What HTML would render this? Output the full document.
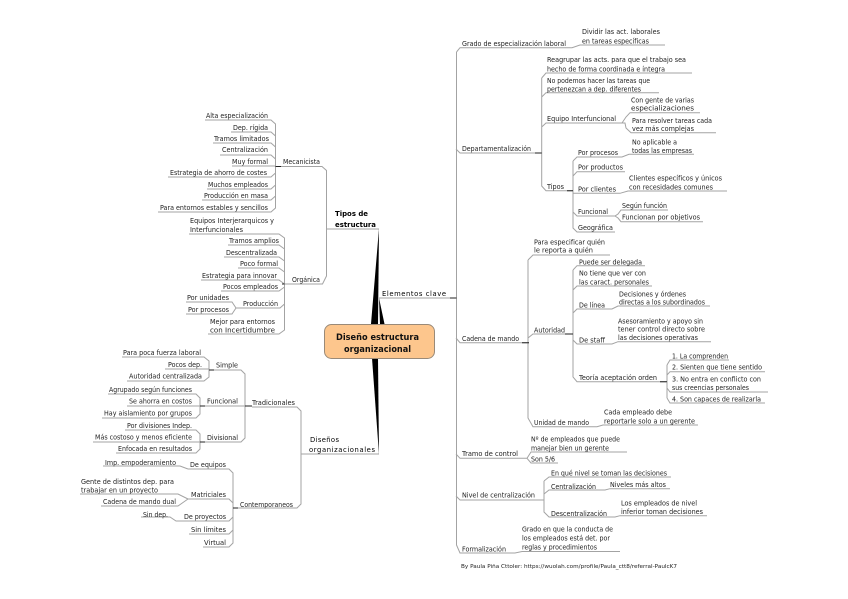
<!DOCTYPE html>
<html lang="es">
<head>
<meta charset="utf-8">
<title>Diseño estructura organizacional</title>
<style>
html,body{margin:0;padding:0;background:#fff;width:848px;height:599px;overflow:hidden}
svg{display:block;filter:blur(0.3px)}
text{font-family:"DejaVu Sans","Liberation Sans",sans-serif;font-size:6.8px;fill:#222}
.l{fill:none;stroke:#a3a3a3;stroke-width:1}
.d{fill:none;stroke:#222;stroke-width:1}
.b{font-weight:700;fill:#000;font-size:7.2px}
.c{font-weight:700;fill:#111;font-size:9px}
</style>
</head>
<body>
<svg xmlns="http://www.w3.org/2000/svg" width="848" height="599" viewBox="0 0 848 599">
<rect width="848" height="599" fill="#fff"/>
<!-- left top connectors -->
<path class="l" d="M205 120H271L275.5 124V208L271 212H158M231 132H271L275.5 136M213 143H271L275.5 147M220 155H271L275.5 159M232 166H275.5M168 177H271L275.5 173M207 189H271L275.5 185M202 200H271L275.5 196"/>
<path class="l" d="M281 166.5H322L326.5 170.5V276L322.5 284H282M326.5 229H379"/>
<path class="l" d="M189 234H279L284.5 238V330L279 334H208M228 245H279L284.5 249M224 257H279L284.5 261M238 268H279L284.5 272M201 280H279L284.5 284M221 291H279L284.5 287M241 308H280L284.5 304M186 302H232L236 308L232 314H186M236 308H241"/>
<path class="d" d="M275.5 166.5H281M284.5 284H282"/>
<!-- left bottom connectors -->
<path class="l" d="M252 407H297L301 411V504L297 508H238M301 454H379"/>
<path class="l" d="M214 370H241L245 374V438L241 442H205M205 406H252"/>
<path class="l" d="M122 357H204L209 361V377L204 381H127M165 369H209"/>
<path class="l" d="M108 394H196L200 398V414L196 418H102M127 406H205"/>
<path class="l" d="M125 430H196L200 434V449L196 453H116M93 442H205"/>
<path class="l" d="M188 469H229L233 473V543L229 547H203M189 534H229L233 530M182 521H229L233 517M188 499H229L233 503V508H238M103 466H180L188 469M80 494H178L188 499L178 506H101M141 517H170L176 521H182"/>
<path class="d" d="M209 370H214M200 406H205M200 442H205M233 508H238M245 406H252"/>
<!-- right connectors -->
<path class="l" d="M379 298H456"/>
<path class="l" d="M456.5 52V545L460 553H515L522 551.5H620M456.5 52L460 47.7H572L580 45H665"/>
<path class="l" d="M456 149L460 153H541.5M456 338L460 342.7H529M456 454L460 458.3H527L531 452H627M527 458.3L531 463H558M456 496L460 500H544"/>
<path class="l" d="M541.7 78L546 73H692M541.7 97L546 92.7H659M541.7 127L546 123H622M541.7 78V186L546 190.7H573"/>
<path class="l" d="M622 123L626 117L630 112.7H700M622 123H625L626 128L631 132.7H716"/>
<path class="l" d="M573 161V228L577 232H615M573 161L577 157H622L629 154.3H694M573 176L577 171.7H625M573 193.3H620L628 191H727M573 212L577 216H615L618 214L621 210H668M615 216L618 218L621 221.7H703"/>
<path class="l" d="M528 260L533 255H610M528 260V418L533 426.7H597L603 425H698M528 338L533 334H573"/>
<path class="l" d="M573 270L577 265.7H645M573 290L577 286H652M573 313L577 309H612L618 306H710M573 340L577 344H612L618 341.7H711M573 270V377L577 381.7H666"/>
<path class="l" d="M667 365L670 360H729M667 375L670 371.7H765M667 388L670 392H768M667 398L670 403H765M667 365V398"/>
<path class="l" d="M544 481L549 477H671M544 481V512L549 517H615L620 515.7H707M544 494L549 490H605L610 488.7H670"/>
<path class="d" d="M450 298H456.5M535 153H541.7M522 342.7H529M565 334H573M567 190.7H573M660 381.7H667"/>
<!-- tapered trunks -->
<polygon points="379,228.5 371,324 378,324" fill="#000"/>
<polygon points="379,298 380,324 384.5,324" fill="#000"/>
<polygon points="379,454.5 372,358 378,358" fill="#000"/>
<!-- central node -->
<rect x="324.5" y="324.5" width="110" height="34" rx="7" ry="7" fill="#fdc68d" stroke="#9a8a78" stroke-width="1"/>
<text class="c" x="336" y="340" textLength="83" lengthAdjust="spacingAndGlyphs">Diseño estructura</text>
<text class="c" x="344" y="352" textLength="67" lengthAdjust="spacingAndGlyphs">organizacional</text>
<!-- main labels -->
<text class="b" x="335" y="216" textLength="33" lengthAdjust="spacingAndGlyphs">Tipos de</text>
<text class="b" x="335" y="227" textLength="41" lengthAdjust="spacingAndGlyphs">estructura</text>
<text class="b" x="382" y="296" textLength="64" lengthAdjust="spacing" style="font-weight:400;font-size:6.8px">Elementos clave</text>
<text class="b" x="310" y="442" textLength="29" lengthAdjust="spacing" style="font-weight:400;font-size:6.8px">Diseños</text>
<text class="b" x="309" y="452" textLength="66" lengthAdjust="spacing" style="font-weight:400;font-size:6.8px">organizacionales</text>
<!-- Mecanicista -->
<text x="206" y="118" textLength="62" lengthAdjust="spacingAndGlyphs">Alta especialización</text>
<text x="233" y="130" textLength="35" lengthAdjust="spacingAndGlyphs">Dep. rígida</text>
<text x="214" y="141" textLength="55" lengthAdjust="spacingAndGlyphs">Tramos limitados</text>
<text x="222" y="152" textLength="46" lengthAdjust="spacingAndGlyphs">Centralización</text>
<text x="232" y="164" textLength="36" lengthAdjust="spacingAndGlyphs">Muy formal</text>
<text x="170" y="175" textLength="97" lengthAdjust="spacingAndGlyphs">Estrategia de ahorro de costes</text>
<text x="208" y="187" textLength="60" lengthAdjust="spacingAndGlyphs">Muchos empleados</text>
<text x="204" y="198" textLength="64" lengthAdjust="spacingAndGlyphs">Producción en masa</text>
<text x="160" y="210" textLength="108" lengthAdjust="spacingAndGlyphs">Para entornos estables y sencillos</text>
<text x="283" y="164" textLength="37" lengthAdjust="spacingAndGlyphs">Mecanicista</text>
<!-- Organica -->
<text x="292" y="282" textLength="28" lengthAdjust="spacingAndGlyphs">Orgánica</text>
<text x="190" y="223" textLength="84" lengthAdjust="spacingAndGlyphs">Equipos Interjerarquicos y</text>
<text x="190" y="232" textLength="53" lengthAdjust="spacingAndGlyphs">Interfuncionales</text>
<text x="229" y="243" textLength="50" lengthAdjust="spacingAndGlyphs">Tramos amplios</text>
<text x="226" y="255" textLength="51" lengthAdjust="spacingAndGlyphs">Descentralizada</text>
<text x="240" y="266" textLength="38" lengthAdjust="spacingAndGlyphs">Poco formal</text>
<text x="202" y="278" textLength="75" lengthAdjust="spacingAndGlyphs">Estrategia para innovar</text>
<text x="223" y="289" textLength="55" lengthAdjust="spacingAndGlyphs">Pocos empleados</text>
<text x="243" y="306" textLength="35" lengthAdjust="spacingAndGlyphs">Producción</text>
<text x="187" y="300" textLength="42" lengthAdjust="spacingAndGlyphs">Por unidades</text>
<text x="188" y="312" textLength="41" lengthAdjust="spacingAndGlyphs">Por procesos</text>
<text x="210" y="324" textLength="65" lengthAdjust="spacingAndGlyphs">Mejor para entornos</text>
<text x="210" y="332.5" textLength="65" lengthAdjust="spacingAndGlyphs">con Incertidumbre</text>
<!-- Tradicionales -->
<text x="252" y="405" textLength="43" lengthAdjust="spacingAndGlyphs">Tradicionales</text>
<text x="216" y="367.5" textLength="22" lengthAdjust="spacingAndGlyphs">Simple</text>
<text x="207" y="403.5" textLength="31" lengthAdjust="spacingAndGlyphs">Funcional</text>
<text x="207" y="440" textLength="31" lengthAdjust="spacingAndGlyphs">Divisional</text>
<text x="123" y="355" textLength="78" lengthAdjust="spacingAndGlyphs">Para poca fuerza laboral</text>
<text x="168" y="367" textLength="34" lengthAdjust="spacingAndGlyphs">Pocos dep.</text>
<text x="129" y="378.5" textLength="73" lengthAdjust="spacingAndGlyphs">Autoridad centralizada</text>
<text x="109" y="392" textLength="83" lengthAdjust="spacingAndGlyphs">Agrupado según funciones</text>
<text x="129" y="403.5" textLength="63" lengthAdjust="spacingAndGlyphs">Se ahorra en costos</text>
<text x="104" y="415.5" textLength="88" lengthAdjust="spacingAndGlyphs">Hay aislamiento por grupos</text>
<text x="127" y="428" textLength="65" lengthAdjust="spacingAndGlyphs">Por divisiones Indep.</text>
<text x="95" y="439.5" textLength="97" lengthAdjust="spacingAndGlyphs">Más costoso y menos eficiente</text>
<text x="118" y="451" textLength="74" lengthAdjust="spacingAndGlyphs">Enfocada en resultados</text>
<!-- Contemporaneos -->
<text x="240" y="507" textLength="53" lengthAdjust="spacingAndGlyphs">Contemporaneos</text>
<text x="190" y="467" textLength="36" lengthAdjust="spacingAndGlyphs">De equipos</text>
<text x="191" y="497" textLength="35" lengthAdjust="spacingAndGlyphs">Matriciales</text>
<text x="184" y="519" textLength="42" lengthAdjust="spacingAndGlyphs">De proyectos</text>
<text x="191" y="532" textLength="35" lengthAdjust="spacingAndGlyphs">Sin límites</text>
<text x="204" y="545" textLength="22" lengthAdjust="spacingAndGlyphs">Virtual</text>
<text x="105" y="465" textLength="71" lengthAdjust="spacingAndGlyphs">Imp. empoderamiento</text>
<text x="81" y="484" textLength="93" lengthAdjust="spacingAndGlyphs">Gente de distintos dep. para</text>
<text x="81" y="492.5" textLength="77" lengthAdjust="spacingAndGlyphs">trabajar en un proyecto</text>
<text x="103" y="504" textLength="73" lengthAdjust="spacingAndGlyphs">Cadena de mando dual</text>
<text x="143" y="517" textLength="25" lengthAdjust="spacingAndGlyphs">Sin dep.</text>
<!-- Right: Grado -->
<text x="462" y="46" textLength="104" lengthAdjust="spacingAndGlyphs">Grado de especialización laboral</text>
<text x="582" y="34" textLength="78" lengthAdjust="spacingAndGlyphs">Dividir las act. laborales</text>
<text x="582" y="43.5" textLength="67" lengthAdjust="spacingAndGlyphs">en tareas específicas</text>
<!-- Departamentalizacion -->
<text x="462" y="151" textLength="69" lengthAdjust="spacingAndGlyphs">Departamentalización</text>
<text x="547" y="62" textLength="139" lengthAdjust="spacingAndGlyphs">Reagrupar las acts. para que el trabajo sea</text>
<text x="547" y="71.5" textLength="118" lengthAdjust="spacingAndGlyphs">hecho de forma coordinada e íntegra</text>
<text x="547" y="83" textLength="103" lengthAdjust="spacingAndGlyphs">No podemos hacer las tareas que</text>
<text x="547" y="91.5" textLength="94" lengthAdjust="spacingAndGlyphs">pertenezcan a dep. diferentes</text>
<text x="547" y="121" textLength="69" lengthAdjust="spacingAndGlyphs">Equipo Interfuncional</text>
<text x="631" y="102.5" textLength="63" lengthAdjust="spacingAndGlyphs">Con gente de varias</text>
<text x="631" y="110.5" textLength="63" lengthAdjust="spacingAndGlyphs">especializaciones</text>
<text x="632" y="123" textLength="80" lengthAdjust="spacingAndGlyphs">Para resolver tareas cada</text>
<text x="632" y="131" textLength="62" lengthAdjust="spacingAndGlyphs">vez más complejas</text>
<text x="547" y="189" textLength="17" lengthAdjust="spacingAndGlyphs">Tipos</text>
<text x="578" y="155" textLength="40" lengthAdjust="spacingAndGlyphs">Por procesos</text>
<text x="632" y="144.5" textLength="45" lengthAdjust="spacingAndGlyphs">No aplicable a</text>
<text x="632" y="153" textLength="60" lengthAdjust="spacingAndGlyphs">todas las empresas</text>
<text x="578" y="169.5" textLength="45" lengthAdjust="spacingAndGlyphs">Por productos</text>
<text x="578" y="191.5" textLength="38" lengthAdjust="spacingAndGlyphs">Por clientes</text>
<text x="629" y="180.5" textLength="93" lengthAdjust="spacingAndGlyphs">Clientes específicos y únicos</text>
<text x="629" y="189.5" textLength="84" lengthAdjust="spacingAndGlyphs">con recesidades comunes</text>
<text x="578" y="214" textLength="30" lengthAdjust="spacingAndGlyphs">Funcional</text>
<text x="622" y="208" textLength="45" lengthAdjust="spacingAndGlyphs">Según función</text>
<text x="622" y="219.5" textLength="78" lengthAdjust="spacingAndGlyphs">Funcionan por objetivos</text>
<text x="578" y="230" textLength="35" lengthAdjust="spacingAndGlyphs">Geográfica</text>
<!-- Cadena de mando -->
<text x="462" y="341" textLength="57" lengthAdjust="spacingAndGlyphs">Cadena de mando</text>
<text x="534" y="244.5" textLength="71" lengthAdjust="spacingAndGlyphs">Para especificar quién</text>
<text x="534" y="252.5" textLength="59" lengthAdjust="spacingAndGlyphs">le reporta a quién</text>
<text x="534" y="332.5" textLength="31" lengthAdjust="spacingAndGlyphs">Autoridad</text>
<text x="579" y="264.5" textLength="63" lengthAdjust="spacingAndGlyphs">Puede ser delegada</text>
<text x="579" y="275.5" textLength="67" lengthAdjust="spacingAndGlyphs">No tiene que ver con</text>
<text x="579" y="284.5" textLength="70" lengthAdjust="spacingAndGlyphs">las caract. personales</text>
<text x="579" y="307.5" textLength="26" lengthAdjust="spacingAndGlyphs">De línea</text>
<text x="619" y="296.5" textLength="67" lengthAdjust="spacingAndGlyphs">Decisiones y órdenes</text>
<text x="619" y="304.5" textLength="86" lengthAdjust="spacingAndGlyphs">directas a los subordinados</text>
<text x="579" y="342.5" textLength="26" lengthAdjust="spacingAndGlyphs">De staff</text>
<text x="618" y="323.5" textLength="85" lengthAdjust="spacingAndGlyphs">Asesoramiento y apoyo sin</text>
<text x="618" y="331.5" textLength="87" lengthAdjust="spacingAndGlyphs">tener control directo sobre</text>
<text x="618" y="340" textLength="80" lengthAdjust="spacingAndGlyphs">las decisiones operativas</text>
<text x="579" y="380" textLength="78" lengthAdjust="spacingAndGlyphs">Teoría aceptación orden</text>
<text x="672" y="358.5" textLength="56" lengthAdjust="spacingAndGlyphs">1. La comprenden</text>
<text x="672" y="369.5" textLength="90" lengthAdjust="spacingAndGlyphs">2. Sienten que tiene sentido</text>
<text x="672" y="381.5" textLength="89" lengthAdjust="spacingAndGlyphs">3. No entra en conflicto con</text>
<text x="672" y="390" textLength="77" lengthAdjust="spacingAndGlyphs">sus creencias personales</text>
<text x="672" y="401.5" textLength="89" lengthAdjust="spacingAndGlyphs">4. Son capaces de realizarla</text>
<text x="534" y="425" textLength="55" lengthAdjust="spacingAndGlyphs">Unidad de mando</text>
<text x="604" y="414.5" textLength="68" lengthAdjust="spacingAndGlyphs">Cada empleado debe</text>
<text x="604" y="423.5" textLength="91" lengthAdjust="spacingAndGlyphs">reportarle solo a un gerente</text>
<!-- Tramo -->
<text x="462" y="456" textLength="56" lengthAdjust="spacingAndGlyphs">Tramo de control</text>
<text x="531" y="441.5" textLength="89" lengthAdjust="spacingAndGlyphs">Nº de empleados que puede</text>
<text x="531" y="450.5" textLength="78" lengthAdjust="spacingAndGlyphs">manejar bien un gerente</text>
<text x="531" y="461.5" textLength="24" lengthAdjust="spacingAndGlyphs">Son 5/6</text>
<!-- Nivel -->
<text x="462" y="497.5" textLength="73" lengthAdjust="spacingAndGlyphs">Nivel de centralización</text>
<text x="551" y="475.5" textLength="116" lengthAdjust="spacingAndGlyphs">En qué nivel se toman las decisiones</text>
<text x="551" y="489" textLength="45" lengthAdjust="spacingAndGlyphs">Centralización</text>
<text x="610" y="487" textLength="56" lengthAdjust="spacingAndGlyphs">Niveles más altos</text>
<text x="551" y="516" textLength="56" lengthAdjust="spacingAndGlyphs">Descentralización</text>
<text x="621" y="505.5" textLength="76" lengthAdjust="spacingAndGlyphs">Los empleados de nivel</text>
<text x="621" y="514" textLength="82" lengthAdjust="spacingAndGlyphs">inferior toman decisiones</text>
<!-- Formalizacion -->
<text x="462" y="551.5" textLength="44" lengthAdjust="spacingAndGlyphs">Formalización</text>
<text x="522" y="531.5" textLength="91" lengthAdjust="spacingAndGlyphs">Grado en que la conducta de</text>
<text x="522" y="540.5" textLength="88" lengthAdjust="spacingAndGlyphs">los empleados está det. por</text>
<text x="522" y="549.5" textLength="75" lengthAdjust="spacingAndGlyphs">reglas y procedimientos</text>
<text x="461" y="568" textLength="216" lengthAdjust="spacingAndGlyphs" style="font-size:5.6px">By Paula Piña Cttoler: https://wuolah.com/profile/Paula_ctt8/referral-PaulcK7</text>
</svg>
</body>
</html>
